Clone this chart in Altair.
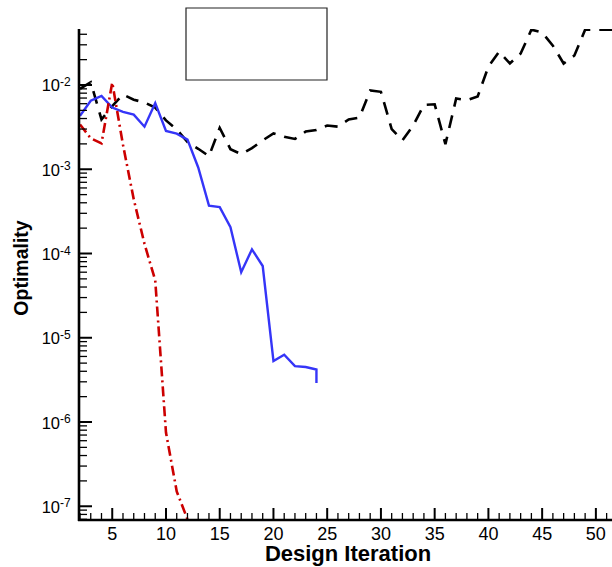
import altair as alt
import pandas as pd

# ---------------- data ----------------
black_iter = list(range(2, 53))
black_val = [9.0e-3, 1.08e-2, 3.9e-3, 5.6e-3, 7.7e-3, 6.7e-3, 6.2e-3, 5.4e-3, 3.8e-3, 2.97e-3,
             2.1e-3, 1.75e-3, 1.43e-3, 3.1e-3, 1.73e-3, 1.51e-3, 1.78e-3, 2.2e-3, 2.67e-3, 2.43e-3,
             2.29e-3, 2.8e-3, 2.93e-3, 3.3e-3, 3.2e-3, 3.9e-3, 4.1e-3, 8.6e-3, 8.3e-3, 3.0e-3,
             2.2e-3, 3.3e-3, 5.8e-3, 5.9e-3, 1.98e-3, 6.9e-3, 6.6e-3, 7.3e-3, 1.65e-2, 2.49e-2,
             1.8e-2, 2.36e-2, 4.54e-2, 4.19e-2, 2.93e-2, 1.8e-2, 2.24e-2, 4.54e-2, 4.54e-2, 4.54e-2,
             4.54e-2]

blue_iter = [2, 3, 4, 5, 6, 7, 8, 9, 10, 11, 12, 13, 14, 15, 16, 17, 18, 19, 20, 21, 22, 23, 24, 24]
blue_val = [4.3e-3, 6.5e-3, 7.4e-3, 5.4e-3, 4.8e-3, 4.45e-3, 3.2e-3, 6.1e-3, 2.85e-3, 2.65e-3,
            2.25e-3, 1.05e-3, 3.7e-4, 3.55e-4, 2.05e-4, 6.0e-5, 1.12e-4, 7.1e-5, 5.3e-6, 6.3e-6,
            4.6e-6, 4.5e-6, 4.2e-6, 2.9e-6]

red_iter = [2, 3, 4, 5, 6, 7, 8, 9, 10, 11, 12]
red_val = [3.4e-3, 2.33e-3, 2.03e-3, 1.07e-2, 1.95e-3, 4.4e-4, 1.3e-4, 4.8e-5, 7.5e-7, 1.5e-7, 7.0e-8]

x_major = [5, 10, 15, 20, 25, 30, 35, 40, 45, 50]
x_labels = ["5", "10", "15", "20", "25", "30", "35", "40", "45", "50"]
x_minor = [i for i in range(2, 52) if i % 5 != 0]

y_exponents = [-7, -6, -5, -4, -3, -2]
y_major = [10.0 ** e for e in y_exponents]
y_base_labels = ["10"] * len(y_exponents)
y_exp_labels = ["-7", "-6", "-5", "-4", "-3", "-2"]

X_DOMAIN = [2, 51.5]
Y_DOMAIN = [6.87e-8, 4.62e-2]
y_minor = [m * 10.0 ** e for e in range(-8, -1) for m in range(2, 10)
           if Y_DOMAIN[0] <= m * 10.0 ** e <= Y_DOMAIN[1]]

x_title = "Design Iteration"
y_title = "Optimality"

# ---------------- layout ----------------
W, H = 532, 491
FONT = "Liberation Sans"

xs = alt.Scale(domain=X_DOMAIN, nice=False, zero=False)
ys = alt.Scale(type="log", domain=Y_DOMAIN, nice=False)


def line_df(it, v):
    return pd.DataFrame({"it": it, "v": v, "idx": list(range(len(it)))})


def series(df, color, width, dash):
    kw = dict(color=color, strokeWidth=width, clip=True)
    if dash:
        kw["strokeDash"] = dash
    return alt.Chart(df).mark_line(**kw).encode(
        x=alt.X("it:Q", scale=xs, axis=None),
        y=alt.Y("v:Q", scale=ys, axis=None),
        order="idx:Q",
    )


black = series(line_df(black_iter, black_val), "black", 2.6, [13, 9])
blue = series(line_df(blue_iter, blue_val), "#3535f8", 2.4, None)
red = series(line_df(red_iter, red_val), "#cc0000", 2.6, [10, 4, 2, 4])

df_xmaj = pd.DataFrame({"t": x_major, "lab": x_labels})
df_xmin = pd.DataFrame({"t": x_minor})
df_ymaj = pd.DataFrame({"v": y_major, "b": y_base_labels, "e": y_exp_labels})
df_ymin = pd.DataFrame({"v": y_minor})
one = pd.DataFrame({"a": [0]})

xt_major = alt.Chart(df_xmaj).mark_rule(color="black", strokeWidth=2).encode(
    x=alt.X("t:Q", scale=xs, axis=None), y=alt.value(H), y2=alt.value(H - 12))
xt_minor = alt.Chart(df_xmin).mark_rule(color="black", strokeWidth=1.3).encode(
    x=alt.X("t:Q", scale=xs, axis=None), y=alt.value(H), y2=alt.value(H - 7))
yt_major = alt.Chart(df_ymaj).mark_rule(color="black", strokeWidth=2).encode(
    y=alt.Y("v:Q", scale=ys, axis=None), x=alt.value(0), x2=alt.value(12))
yt_minor = alt.Chart(df_ymin).mark_rule(color="black", strokeWidth=1.3).encode(
    y=alt.Y("v:Q", scale=ys, axis=None), x=alt.value(0), x2=alt.value(7))

y_axis_line = alt.Chart(one).mark_rule(color="black", strokeWidth=2.6).encode(
    x=alt.value(-1), y=alt.value(0), y2=alt.value(H + 1))
x_axis_line = alt.Chart(one).mark_rule(color="black", strokeWidth=2.6).encode(
    y=alt.value(H), x=alt.value(-2), x2=alt.value(W))

x_lab = alt.Chart(df_xmaj).mark_text(font=FONT, fontSize=18, color="black",
                                     align="center", baseline="alphabetic").encode(
    x=alt.X("t:Q", scale=xs, axis=None), y=alt.value(H + 20), text="lab:N")
y_lab_base = alt.Chart(df_ymaj).mark_text(font=FONT, fontSize=16.5, color="black",
                                          align="right", baseline="alphabetic", dy=6.5).encode(
    y=alt.Y("v:Q", scale=ys, axis=None), x=alt.value(-20), text="b:N")
y_lab_exp = alt.Chart(df_ymaj).mark_text(font=FONT, fontSize=12, color="black",
                                         align="left", baseline="alphabetic", dy=1).encode(
    y=alt.Y("v:Q", scale=ys, axis=None), x=alt.value(-20), text="e:N")

x_tt = alt.Chart(one).mark_text(font=FONT, fontSize=22, fontWeight="bold", color="black",
                                align="center", baseline="alphabetic", text=x_title).encode(
    x=alt.value(268), y=alt.value(532))
y_tt = alt.Chart(one).mark_text(font=FONT, fontSize=19.5, fontWeight="bold", color="black",
                                align="center", baseline="alphabetic", angle=270, text=y_title).encode(
    x=alt.value(-52), y=alt.value(239))

legend_box = alt.Chart(one).mark_rect(fill="white", fillOpacity=0, stroke="#222222",
                                      strokeWidth=1.2).encode(
    x=alt.value(106), x2=alt.value(247), y=alt.value(-21), y2=alt.value(51))

chart = alt.layer(
    legend_box, black, blue, red,
    xt_minor, xt_major, yt_minor, yt_major, y_axis_line, x_axis_line,
    x_lab, y_lab_base, y_lab_exp, x_tt, y_tt,
).properties(
    width=W, height=H,
    autosize=alt.AutoSizeParams(type="none"),
    padding={"left": 80, "top": 29, "right": 0, "bottom": 47},
    background="white",
).configure_view(stroke=None)

chart.save("out.html", embed_options={"renderer": "svg", "actions": False})
